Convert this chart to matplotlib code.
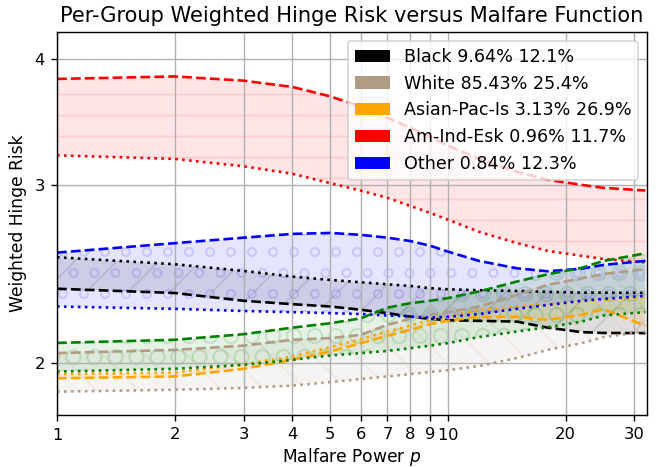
import matplotlib
matplotlib.use("Agg")
import matplotlib.pyplot as plt
from matplotlib.patches import Patch
import numpy as np

# malfare power p
p = [1, 2, 3, 4, 5, 6, 7, 8, 9, 10, 12, 15, 18, 22, 25, 32]

# per-group risk, two curves each (dashed / dotted)
black_dash = [2.368, 2.345, 2.304, 2.286, 2.274, 2.257, 2.240, 2.222, 2.211, 2.204, 2.201, 2.197, 2.167, 2.145, 2.141, 2.140]
black_dot = [2.544, 2.504, 2.466, 2.434, 2.416, 2.403, 2.392, 2.383, 2.371, 2.365, 2.360, 2.356, 2.351, 2.347, 2.347, 2.346]
white_dash = [2.045, 2.060, 2.080, 2.108, 2.116, 2.132, 2.181, 2.211, 2.231, 2.245, 2.274, 2.335, 2.389, 2.425, 2.449, 2.476]
white_dot = [1.873, 1.881, 1.889, 1.899, 1.914, 1.928, 1.939, 1.949, 1.959, 1.967, 1.985, 2.022, 2.060, 2.092, 2.121, 2.148]
asian_dash = [1.931, 1.939, 1.973, 2.014, 2.052, 2.092, 2.127, 2.156, 2.184, 2.201, 2.221, 2.221, 2.206, 2.231, 2.260, 2.176]
asian_dot = [1.949, 1.956, 1.994, 2.029, 2.073, 2.112, 2.148, 2.177, 2.206, 2.222, 2.257, 2.274, 2.286, 2.300, 2.309, 2.321]
amind_dash = [3.819, 3.841, 3.804, 3.750, 3.670, 3.585, 3.496, 3.418, 3.348, 3.280, 3.185, 3.091, 3.035, 3.000, 2.980, 2.962]
amind_dot = [3.209, 3.183, 3.130, 3.077, 3.012, 2.960, 2.913, 2.860, 2.815, 2.771, 2.696, 2.628, 2.581, 2.552, 2.534, 2.514]
other_dash = [2.571, 2.627, 2.660, 2.683, 2.689, 2.677, 2.660, 2.640, 2.612, 2.577, 2.523, 2.481, 2.464, 2.479, 2.500, 2.523]
other_dot = [2.274, 2.262, 2.251, 2.245, 2.240, 2.235, 2.228, 2.222, 2.217, 2.221, 2.235, 2.262, 2.282, 2.304, 2.314, 2.330]
pooled_dash = [2.093, 2.108, 2.135, 2.167, 2.189, 2.214, 2.268, 2.291, 2.304, 2.318, 2.353, 2.407, 2.447, 2.484, 2.523, 2.567]
pooled_dot = [1.961, 1.973, 1.991, 2.014, 2.034, 2.045, 2.055, 2.068, 2.080, 2.092, 2.121, 2.148, 2.169, 2.197, 2.228, 2.245]

labels = ['Black 9.64% 12.1%', 'White 85.43% 25.4%', 'Asian-Pac-Is 3.13% 26.9%',
          'Am-Ind-Esk 0.96% 11.7%', 'Other 0.84% 12.3%']
colors = ['black', '#b09b84', 'orange', 'red', 'blue', 'green']
hatches = ['/', '\\', '|', '-', 'o', 'O']
dashed = [black_dash, white_dash, asian_dash, amind_dash, other_dash, pooled_dash]
dotted = [black_dot, white_dot, asian_dot, amind_dot, other_dot, pooled_dot]

dpi = 126
fig = plt.figure(figsize=(658 / dpi, 467 / dpi), dpi=dpi)
ax = fig.add_axes([57 / 658, 1 - 415 / 467, 590 / 658, 383 / 467])

for c, h, a, b in zip(colors, hatches, dashed, dotted):
    ax.fill_between(p, a, b, color=c, alpha=0.1, hatch=h, linewidth=0)
    ax.plot(p, a, '--', color=c, lw=1.5)
    ax.plot(p, b, ':', color=c, lw=1.5)

ax.set_xscale('log')
ax.set_yscale('log')
ax.set_xlim(1, 32.3)
ax.set_ylim(1.776, 4.25)

xt = [1, 2, 3, 4, 5, 6, 7, 8, 9, 10, 20, 30]
xl = [r'$\mathdefault{%d}$' % v if v in (1, 10) else str(v) for v in xt]
ax.xaxis.set_minor_locator(matplotlib.ticker.NullLocator())
ax.set_xticks(xt)
ax.set_xticklabels(xl, fontsize=9.4)
ax.yaxis.set_minor_locator(matplotlib.ticker.NullLocator())
ax.set_yticks([2, 3, 4])
ax.set_yticklabels(['2', '3', '4'], fontsize=9.4)
ax.grid(True, color='#b0b0b0', lw=0.8)

ax.set_xlabel('Malfare Power $p$', fontsize=9.8, labelpad=1.5)
ax.set_ylabel('Weighted Hinge Risk', fontsize=9.8)
ax.set_title('Per-Group Weighted Hinge Risk versus Malfare Function', fontsize=12)

handles = [Patch(facecolor=c, label=l) for c, l in zip(colors[:5], labels)]
ax.legend(handles=handles, loc='upper right', fontsize=10)

fig.savefig('out.png', dpi=dpi)
